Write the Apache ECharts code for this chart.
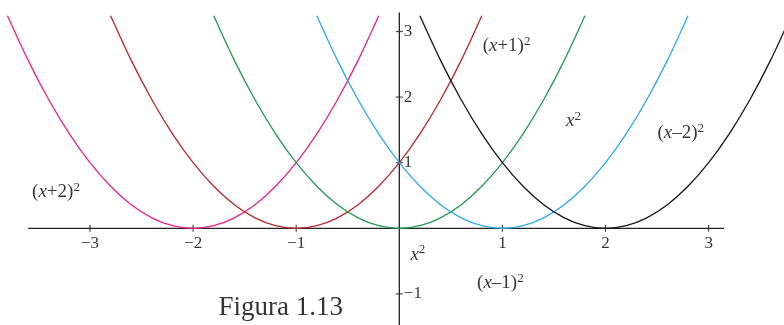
<!DOCTYPE html>
<html>
<head>
<meta charset="utf-8">
<script src="https://cdn.jsdelivr.net/npm/echarts@6/dist/echarts.min.js"></script>
<style>
  html, body { margin: 0; padding: 0; background: #ffffff; }
  #chart { width: 784px; height: 325px; }
</style>
</head>
<body>
<div id="chart"></div>
<script>
// Vertices of the shifted parabolas (x - h)^2, left to right
const vertices = [-2, -1, 0, 1, 2];
const curveNames = ['(x+2)²', '(x+1)²', 'x²', '(x–1)²', '(x–2)²'];
const curveColors = ['#e8208a', '#b8262c', '#1f9a4c', '#29ace4', '#151515'];

// Tabulated values of the base parabola around its vertex
const offsets = [-1.8, -1.6, -1.4, -1.2, -1.0, -0.8, -0.6, -0.4, -0.2, 0,
                  0.2, 0.4, 0.6, 0.8, 1.0, 1.2, 1.4, 1.6, 1.8];
const heights = [3.24, 2.56, 1.96, 1.44, 1.00, 0.64, 0.36, 0.16, 0.04, 0,
                 0.04, 0.16, 0.36, 0.64, 1.00, 1.44, 1.96, 2.56, 3.24];

// Axis tick values
const xTicks = [-3, -2, -1, 1, 2, 3];
const yTicks = [-1, 1, 2, 3];

// Extent of the drawn axis lines (data units)
const xAxisSpan = [-3.6, 3.15];
const yAxisSpan = [-1.6, 3.29];

const SERIF = '"Liberation Serif", "DejaVu Serif", serif';
const INK = '#000000';
const AXIS_INK = '#222222';

const chart = echarts.init(document.getElementById('chart'), null, { renderer: 'canvas' });

const minusSign = v => String(v).replace('-', '−');

// Each parabola is its vertex plus the tabulated offsets
const curveSeries = vertices.map((h, k) => ({
  name: curveNames[k],
  type: 'line',
  data: offsets.map((dx, j) => [h + dx, heights[j]]),
  smooth: 0.3,
  showSymbol: false,
  silent: true,
  clip: true,
  z: 3,
  lineStyle: { color: curveColors[k], width: 1.3 }
}));

const richStyles = {
  n: { fontFamily: SERIF, fontSize: 19, color: INK, lineHeight: 22 },
  i: { fontFamily: SERIF, fontSize: 19, fontStyle: 'italic', color: INK, lineHeight: 22 },
  s: { fontFamily: SERIF, fontSize: 13, color: INK, lineHeight: 6, verticalAlign: 'top' },
  f: { fontFamily: SERIF, fontSize: 27, color: INK, lineHeight: 30 }
};

// Formula labels and figure caption, anchored in data coordinates
const annotations = [
  { value: [1.04, 2.78],   text: '{n|(}{i|x}{n|+1)}{s|2}' },
  { value: [1.69, 1.64],   text: '{i|x}{s|2}' },
  { value: [2.73, 1.45],   text: '{n|(}{i|x}{n|–2)}{s|2}' },
  { value: [-3.33, 0.55],  text: '{n|(}{i|x}{n|+2)}{s|2}' },
  { value: [0.18, -0.40],  text: '{i|x}{s|2}' },
  { value: [0.98, -0.83],  text: '{n|(}{i|x}{n|–1)}{s|2}' },
  { value: [-1.15, -1.22], text: '{f|Figura 1.13}' }
];

const tickLabel = {
  show: true,
  formatter: p => minusSign(p.data.tick),
  fontFamily: SERIF,
  fontSize: 17,
  color: INK
};

const option = {
  animation: false,
  backgroundColor: '#ffffff',
  grid: { left: 0, right: 0, top: 0, bottom: 0, containLabel: false, outerBoundsMode: 'none' },
  xAxis: {
    type: 'value',
    min: -3.873,
    max: 3.731,
    axisLine: { show: false },
    axisTick: { show: false },
    axisLabel: { show: false },
    splitLine: { show: false }
  },
  yAxis: {
    type: 'value',
    min: -1.474,
    max: 3.48,
    axisLine: { show: false },
    axisTick: { show: false },
    axisLabel: { show: false },
    splitLine: { show: false }
  },
  series: [
    // Coordinate axes through the origin
    {
      type: 'line',
      data: [[xAxisSpan[0], 0], [xAxisSpan[1], 0]],
      showSymbol: false, silent: true, z: 2,
      lineStyle: { color: AXIS_INK, width: 1.3 }
    },
    {
      type: 'line',
      data: [[0, yAxisSpan[0]], [0, yAxisSpan[1]]],
      showSymbol: false, silent: true, z: 2,
      lineStyle: { color: AXIS_INK, width: 1.3 }
    },
    // Tick marks with their numbers
    {
      type: 'scatter',
      data: xTicks.map(v => ({ value: [v, 0], tick: v })),
      symbol: 'rect',
      symbolSize: [1.2, 7],
      silent: true, z: 2,
      itemStyle: { color: AXIS_INK },
      label: Object.assign({ position: 'bottom', distance: 3 }, tickLabel)
    },
    {
      type: 'scatter',
      data: yTicks.map(v => ({ value: [0, v], tick: v })),
      symbol: 'rect',
      symbolSize: [7, 1.2],
      silent: true, z: 2,
      itemStyle: { color: AXIS_INK },
      label: Object.assign({ position: 'right', distance: 1 }, tickLabel)
    },
    ...curveSeries,
    {
      type: 'scatter',
      symbolSize: 0,
      silent: true,
      z: 5,
      data: annotations.map(a => ({
        value: a.value,
        label: {
          show: true,
          position: 'inside',
          formatter: a.text,
          rich: richStyles
        }
      }))
    }
  ]
};

chart.setOption(option);
</script>
</body>
</html>
